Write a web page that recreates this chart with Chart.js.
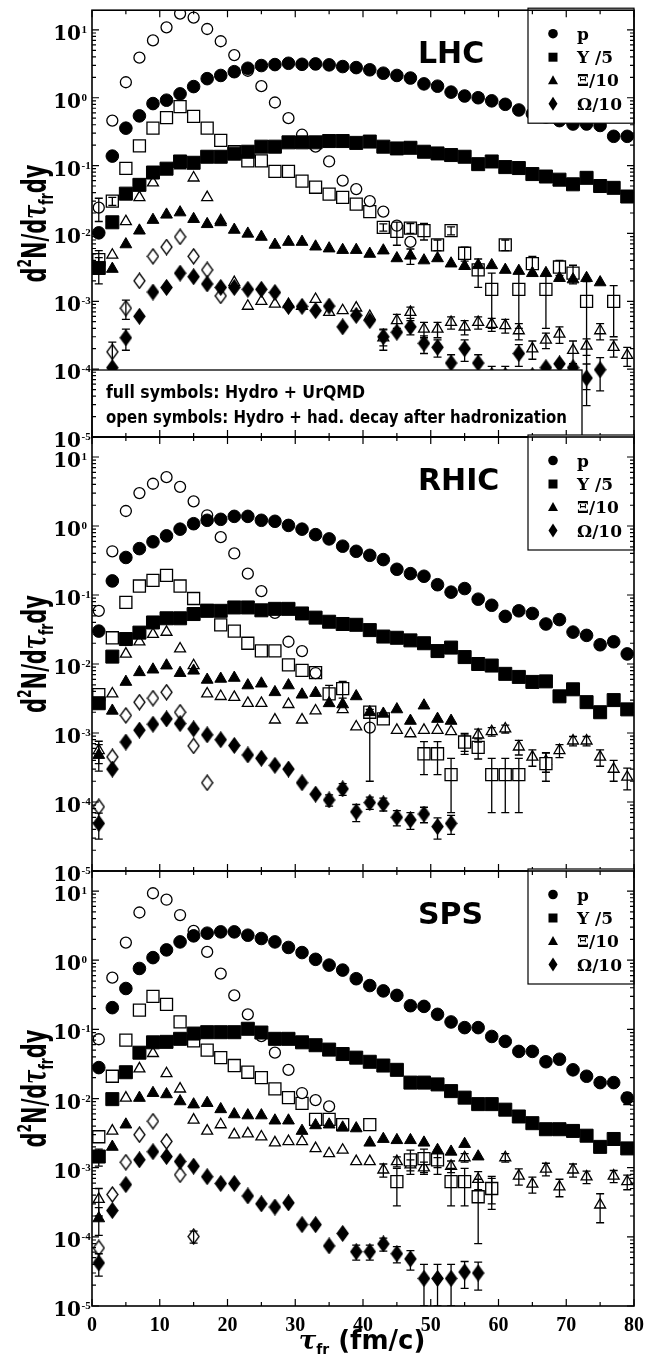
<!DOCTYPE html>
<html>
<head>
<meta charset="utf-8">
<script src="https://cdn.jsdelivr.net/npm/chart.js@4.4.1/dist/chart.umd.min.js"></script>
<style>
  body { margin: 0; background: #fff; }
  canvas { position: absolute; left: 0; top: 0; }
</style>
</head>
<body>
<canvas id="lhc" width="645" height="1364"></canvas>
<canvas id="rhic" width="645" height="1364"></canvas>
<canvas id="sps" width="645" height="1364"></canvas>
<script>
const _ = null;
// freeze-out times (fm/c), bin centres
const tau = [1,3,5,7,9,11,13,15,17,19,21,23,25,27,29,31,33,35,37,39,41,43,45,47,49,51,53,55,57,59,61,63,65,67,69,71,73,75,77,79];
const yTicks = [1e-5, 1e-4, 1e-3, 1e-2, 1e-1, 1, 10];
const yExp = ['-5', '-4', '-3', '-2', '-1', '0', '1'];
const xTicks = [0, 10, 20, 30, 40, 50, 60, 70, 80];
const legendLabels = ['p', 'Y /5', '\u039E/10', '\u03A9/10'];

// ---- LHC ----
const lhcP  = [0.0102,0.138,0.356,0.54,0.82,0.92,1.14,1.46,1.91,2.13, 2.42,2.72,2.98,3.08,3.22,3.11,3.15,3.05,2.88,2.78, 2.58,2.30,2.13,1.95,1.60,1.48,1.21,1.06,1.00,0.90, 0.80,0.66,0.58,0.52,0.46,0.41,0.41,0.39,0.27,0.27];
const lhcPo = [0.024,0.46,1.69,3.9,7.0,10.9,17.4,15.2,10.3,6.8, 4.25,2.5,1.48,0.85,0.50,0.285,0.19,0.115,0.06,0.045, 0.03,0.021,0.013,0.0075];
const lhcY  = [0.0031,0.0146,0.0386,0.052,0.079,0.090,0.115,0.11,0.135,0.135, 0.15,0.16,0.19,0.19,0.22,0.22,0.22,0.23,0.23,0.216, 0.226,0.19,0.179,0.183,0.16,0.151,0.143,0.135,0.105,0.115, 0.095,0.092,0.075,0.069,0.062,0.053,0.066,0.050,0.047,0.035];
const lhcYo = [0.0041,0.030,0.091,0.195,0.356,0.51,0.74,0.53,0.356,0.235, 0.16,0.117,0.117,0.082,0.082,0.059,0.048,0.038,0.034,0.027, 0.021,0.0123,0.0107,0.012,0.011,0.0068,0.011,0.0051,0.0029,0.0015, 0.0068,0.0015,0.0036,0.0015,0.0032,0.0026,0.001,_,0.001];
const lhcX  = [_,0.003,0.0069,0.011,0.0158,0.0189,0.0204,0.0163,0.0137,0.0146, 0.0113,0.0099,0.0089,0.0068,0.0075,0.0075,0.0064,0.006,0.0057,0.0057, 0.005,0.0056,0.0043,0.0047,0.004,0.0043,0.0036,0.0033,0.0034,0.0034, 0.0029,0.0028,0.0026,0.0026,0.0022,0.0021,0.0022,0.0019];
const lhcXo = [_,0.0048,0.015,0.034,0.056,0.085,0.10,0.066,0.034,0.0155, 0.0019,0.00085,0.001,0.00091,0.0009,0.00085,0.00107,0.00069,0.00073,0.0008, 0.0006,0.00029,0.00052,0.00069,0.00039,0.00039,0.00049,0.00042,0.00049,0.00046, 0.00044,0.00037,0.0002,0.00027,0.00033,0.00019,0.00022,0.00037,0.00021,0.00016];
const lhcO  = [_,0.000105,0.00029,0.0006,0.00137,0.0016,0.0026,0.0023,0.0018,0.0016, 0.0016,0.0015,0.0015,0.00135,0.00084,0.00084,0.00073,0.00085,0.00042,0.00062, 0.00052,0.0003,0.00035,0.00042,0.00024,0.00021,0.000123,0.0002,0.000123,0.00008, 0.00008,0.00017,0.00008,0.000105,0.00012,0.000105,0.000074,0.000098];
const lhcOo = [_,0.00018,0.00079,0.002,0.0046,0.0063,0.0089,0.0046,0.0029,0.0012];
const lhcPoErr = [[1,0.009]];
const lhcYErr  = [[1,0.0013]];
const lhcYoErr = [[1,0.0015],[3,0.004],[43,0.0015],[45,0.004],[47,0.002],[49,0.003],[51,0.0012],[53,0.0015],[55,0.0012],[57,0.0013],[59,0.0011],[61,0.0012],[63,0.0011],[65,0.001],[67,0.0011],[69,0.0008],[71,0.0008],[73,0.00095],[77,0.0007]];
const lhcXErr  = [[47,0.0012]];
const lhcXoErr = [[43,0.0001],[45,0.00012],[47,0.00013],[49,0.0001],[51,0.0001],[53,0.0001],[55,0.0001],[57,0.0001],[59,0.0001],[61,0.0001],[63,0.0001],[65,0.00006],[67,0.00007],[69,0.00009],[71,0.00007],[73,0.00006],[75,0.0001],[77,0.00006],[79,0.00005]];
const lhcOErr  = [[5,0.0001],[43,0.00008],[47,0.0001],[49,0.00007],[51,0.00006],[53,0.00004],[55,0.00007],[57,0.00004],[59,0.00003],[61,0.00003],[63,0.00006],[73,0.000045],[75,0.00005]];
const lhcOoErr = [[3,0.00007],[5,0.00025]];

// ---- RHIC ----
const rhP  = [0.030,0.16,0.35,0.47,0.59,0.72,0.90,1.08,1.21,1.25, 1.38,1.38,1.21,1.17,1.02,0.90,0.75,0.65,0.51,0.43, 0.376,0.326,0.236,0.204,0.187,0.141,0.11,0.124,0.087,0.071, 0.049,0.059,0.054,0.038,0.044,0.029,0.026,0.019,0.021,0.014];
const rhPo = [0.059,0.43,1.65,3.0,4.1,5.1,3.7,2.28,1.43,0.69, 0.40,0.204,0.114,0.055,0.021,0.0154,0.0074,_,_,_, 0.0012];
const rhY  = [0.0027,0.0128,0.023,0.0285,0.040,0.046,0.046,0.053,0.059,0.059, 0.066,0.066,0.060,0.063,0.063,0.054,0.047,0.041,0.038,0.037, 0.031,0.025,0.024,0.022,0.020,0.0154,0.0173,0.0126,0.0100,0.0095, 0.0072,0.0065,0.0055,0.0056,0.0034,0.0043,0.0028,0.0020,0.0030,0.0022];
const rhYo = [0.0036,0.024,0.078,0.135,0.163,0.193,0.135,0.089,0.06,0.037, 0.030,0.020,0.0155,0.0155,0.0097,0.0081,0.0075,0.0037,0.0044,_, 0.0020,0.0016,_,_,0.0005,0.0005,0.00025,0.00074,0.00062,0.00025, 0.00025,0.00025,_,0.00036];
const rhX  = [0.00048,0.0021,0.0055,0.0076,0.0083,0.0095,0.0074,0.0080,0.0059,0.0061, 0.0063,0.0049,0.0052,0.0039,0.0049,0.0036,0.0038,0.0027,0.0026,0.0034, 0.0020,0.0019,0.0022,0.0015,0.0025,0.0016,0.0015];
const rhXo = [0.00056,0.0037,0.014,0.021,0.027,0.029,0.0166,0.0095,0.0037,0.0034, 0.0033,0.0027,0.0027,0.00155,0.0026,0.00155,0.0021,_,0.0022,0.00123, _,_,0.0011,0.00098,0.0011,0.0011,0.00105,0.00074,0.00094,0.00105, 0.00115,0.00063,0.00045,0.00039,0.00056,0.00077,0.00077,0.00045,0.0003,0.00023];
const rhO  = [0.000049,0.0003,0.00074,0.0011,0.00134,0.0016,0.00137,0.00115,0.00094,0.0008, 0.00066,0.00048,0.00043,0.00034,0.0003,0.00019,0.00013,0.000107,0.000155,0.000072, 0.000098,0.000094,0.00006,0.000055,0.000067,0.000044,0.000049];
const rhOo = [0.000085,0.00045,0.0018,0.0028,0.0032,0.0039,0.002,0.00065,0.00019];
const rhPoErr = [[41,0.001]];
const rhYoErr = [[35,0.0012],[37,0.0012],[49,0.00025],[51,0.00025],[53,0.00018],[55,0.00025],[57,0.0002],[59,0.00018],[61,0.00018],[63,0.00018],[67,0.00016]];
const rhXErr  = [[1,0.0002]];
const rhXoErr = [[1,0.0002],[55,0.0002],[57,0.0002],[59,0.00015],[61,0.00015],[63,0.00015],[65,0.00012],[67,0.00012],[69,0.00012],[71,0.00012],[73,0.00012],[75,0.00012],[77,0.0001],[79,0.00008]];
const rhOErr  = [[1,0.00002],[35,0.00002],[37,0.00003],[39,0.00002],[41,0.00002],[43,0.00002],[45,0.000015],[47,0.000015],[49,0.000017],[51,0.000015],[53,0.000015]];

// ---- SPS ----
const spP  = [0.028,0.206,0.39,0.76,1.09,1.41,1.84,2.25,2.46,2.57, 2.57,2.30,2.06,1.84,1.53,1.29,1.03,0.85,0.72,0.54, 0.43,0.36,0.31,0.22,0.215,0.165,0.128,0.106,0.106,0.079, 0.067,0.048,0.048,0.034,0.037,0.026,0.021,0.017,0.017,0.0102];
const spPo = [0.072,0.56,1.80,4.9,9.3,7.5,4.5,2.66,1.32,0.64, 0.31,0.165,0.080,0.046,0.026,0.012,0.0095,0.0077];
const spY  = [0.00145,0.0098,0.024,0.046,0.065,0.066,0.073,0.087,0.091,0.091, 0.091,0.102,0.09,0.073,0.073,0.065,0.059,0.051,0.044,0.039, 0.034,0.030,0.026,0.017,0.017,0.016,0.0128,0.0103,0.0083,0.0083, 0.0069,0.0055,0.0044,0.0036,0.0036,0.0034,0.0029,0.0020,0.0026,0.0019];
const spYo = [0.0028,0.021,0.070,0.19,0.30,0.23,0.128,0.068,0.050,0.039, 0.030,0.024,0.020,0.0138,0.0103,0.0085,0.005,0.005,0.0042,_, 0.0042,_,0.00063,0.0013,0.00135,0.0013,0.00063,0.00063,0.00038,0.0005];
const spX  = [0.000185,0.002,0.0042,0.0102,0.012,0.0115,0.0091,0.0082,0.0086,0.007, 0.0059,0.0057,0.0057,0.0048,0.0048,0.0034,0.0041,0.0042,0.0038,0.0037, 0.0023,0.0026,0.0025,0.0025,0.0023,0.0018,0.0017,0.0022,0.00145];
const spXo = [0.00035,0.0034,0.0102,0.027,0.045,0.023,0.0138,0.0049,0.0034,0.0042, 0.003,0.0031,0.0028,0.0023,0.0024,0.0024,0.0019,0.0016,0.0018,0.00123, 0.00123,0.00093,0.00123,0.0011,0.001,0.0012,0.00105,0.0014,0.00068,0.0005, 0.0014,0.00076,0.00058,0.00096,0.00053,0.00093,0.00074,0.00029,0.00076,0.00063];
const spO  = [0.000042,0.00024,0.00057,0.0013,0.0017,0.00145,0.00123,0.00105,0.00074,0.00059, 0.00059,0.00039,0.0003,0.00027,0.00031,0.00015,0.00015,0.000074,0.000112,0.000061, 0.000061,0.000079,0.000057,0.000048,0.000025,0.000025,0.000025,0.000031,0.00003];
const spOo = [0.000069,0.00041,0.0012,0.003,0.0047,0.0024,0.00079,0.000101];
const spPErr  = [[79,0.002]];
const spYErr  = [[1,0.0004]];
const spYoErr = [[45,0.00035],[47,0.0005],[49,0.0005],[51,0.0005],[53,0.00035],[55,0.00035],[57,0.0003],[59,0.00025]];
const spXErr  = [[1,0.00008]];
const spXoErr = [[1,0.00015],[43,0.0002],[45,0.0002],[47,0.0002],[49,0.0002],[51,0.0002],[53,0.0002],[55,0.0002],[57,0.0002],[59,0.0002],[61,0.0002],[63,0.0002],[65,0.00015],[67,0.0002],[69,0.00015],[71,0.0002],[73,0.00015],[75,0.00013],[77,0.00015],[79,0.00015]];
const spOErr  = [[1,0.000015],[39,0.000015],[41,0.000015],[43,0.000017],[45,0.000015],[47,0.000015],[49,0.000015],[51,0.000015],[53,0.000015],[55,0.000013],[57,0.000013]];
const spOoErr = [[15,0.00002]];

// ---- marker helpers ----
function diamondCanvas(w, h, fill) {
  const c = document.createElement('canvas');
  c.width = w + 2; c.height = h + 2;
  const g = c.getContext('2d');
  g.beginPath();
  g.moveTo(c.width / 2, 1);
  g.lineTo(c.width - 1, c.height / 2);
  g.lineTo(c.width / 2, c.height - 1);
  g.lineTo(1, c.height / 2);
  g.closePath();
  g.fillStyle = fill; g.fill();
  g.lineWidth = 1.3; g.strokeStyle = '#000'; g.stroke();
  return c;
}
const diaFull = diamondCanvas(11, 15, '#000');
const diaOpen = diamondCanvas(11, 15, '#fff');

function pts(vals) {
  const out = [];
  tau.forEach((t, i) => { if (vals[i] != null) out.push({x: t, y: vals[i]}); });
  return out;
}

function makeSet(vals, errs, kind, open) {
  const d = {
    data: pts(vals), errs: errs || [],
    pointBackgroundColor: open ? '#fff' : '#000',
    pointBorderColor: '#000',
    pointBorderWidth: open ? 1.3 : 1,
    pointHoverRadius: 0
  };
  if (kind === 'p') { d.pointStyle = 'circle'; d.pointRadius = open ? 5.5 : 6.3; }
  if (kind === 'Y') { d.pointStyle = 'rect'; d.pointRadius = open ? 8.5 : 9.2; }
  if (kind === 'X') { d.pointStyle = 'triangle'; d.pointRadius = open ? 6.3 : 6.8; }
  if (kind === 'O') { d.pointStyle = open ? diaOpen : diaFull; d.pointRadius = 6; }
  return d;
}

function drawRich(ctx, parts, x, y) {
  let cx = x;
  parts.forEach(p => {
    ctx.font = p.f;
    ctx.fillText(p.t, cx, y + (p.dy || 0));
    cx += ctx.measureText(p.t).width;
  });
}
function richWidth(ctx, parts) {
  let w = 0;
  parts.forEach(p => { ctx.font = p.f; w += ctx.measureText(p.t).width; });
  return w;
}

function legendMarker(ctx, i, x, y) {
  ctx.beginPath();
  if (i === 0) ctx.arc(x, y, 4.8, 0, Math.PI * 2);
  if (i === 1) ctx.rect(x - 4.5, y - 4.5, 9, 9);
  if (i === 2) { ctx.moveTo(x, y - 5); ctx.lineTo(x + 5, y + 4); ctx.lineTo(x - 5, y + 4); ctx.closePath(); }
  if (i === 3) { ctx.moveTo(x, y - 7); ctx.lineTo(x + 4.5, y); ctx.lineTo(x, y + 7); ctx.lineTo(x - 4.5, y); ctx.closePath(); }
  ctx.fill();
}

const deco = {
  id: 'deco',
  afterDatasetsDraw(chart) {
    const {ctx, chartArea: a} = chart;
    const xs = chart.scales.x, ys = chart.scales.y;
    ctx.save();
    ctx.beginPath();
    ctx.rect(a.left, a.top, a.right - a.left, a.bottom - a.top);
    ctx.clip();
    ctx.strokeStyle = '#000';
    ctx.lineWidth = 1.3;
    chart.data.datasets.forEach(ds => {
      ds.errs.forEach(([xv, e]) => {
        const pt = ds.data.find(p => p.x === xv);
        if (!pt) return;
        const px = xs.getPixelForValue(xv);
        const y1 = ys.getPixelForValue(Math.max(pt.y - e, 1e-7));
        const y2 = ys.getPixelForValue(pt.y + e);
        ctx.beginPath();
        ctx.moveTo(px, y1); ctx.lineTo(px, y2);
        ctx.moveTo(px - 4, y1); ctx.lineTo(px + 4, y1);
        ctx.moveTo(px - 4, y2); ctx.lineTo(px + 4, y2);
        ctx.stroke();
      });
    });
    ctx.restore();
  },
  afterDraw(chart) {
    const o = chart.options.plugins.deco;
    const {ctx, chartArea: a} = chart;
    const xs = chart.scales.x, ys = chart.scales.y;
    ctx.save();
    ctx.fillStyle = '#000';
    ctx.strokeStyle = '#000';

    // note box (LHC only)
    if (o.note) {
      const bt = a.bottom - 67;
      ctx.fillStyle = '#fff';
      ctx.fillRect(a.left, bt, 582 - a.left, a.bottom - bt);
      ctx.lineWidth = 1.3;
      ctx.strokeRect(a.left, bt, 582 - a.left, a.bottom - bt);
      ctx.fillStyle = '#000';
      ctx.font = 'bold 18px "DejaVu Sans"';
      [['full symbols: Hydro + UrQMD', 259, 28], ['open symbols: Hydro + had. decay after hadronization', 461, 53]].forEach(([t, w, dy]) => {
        const m = ctx.measureText(t).width;
        ctx.save();
        ctx.translate(106, bt + dy);
        ctx.scale(w / m, 1);
        ctx.fillText(t, 0, 0);
        ctx.restore();
      });
    }

    // legend box
    ctx.fillStyle = '#fff';
    ctx.fillRect(528, a.top - 2, a.right - 528, 115);
    ctx.lineWidth = 1.2;
    ctx.strokeRect(528, a.top - 2, a.right - 528, 115);
    ctx.fillStyle = '#000';
    const rows = [23.5, 47, 70, 93.5];
    legendLabels.forEach((lab, i) => {
      legendMarker(ctx, i, 553, a.top + rows[i]);
      ctx.font = 'bold 17px "DejaVu Serif"';
      ctx.fillText(lab, 577, a.top + rows[i] + 6);
    });

    // panel name
    ctx.font = 'bold 30px "DejaVu Sans"';
    ctx.fillText(o.name, 418, a.top + 53);

    // frame
    ctx.lineWidth = 1.6;
    ctx.strokeRect(a.left, a.top, a.right - a.left, a.bottom - a.top);

    // inward ticks
    ctx.lineWidth = 1.2;
    ctx.beginPath();
    for (let v = 0; v <= 80; v += 5) {
      const px = xs.getPixelForValue(v);
      const len = v % 10 === 0 ? 7 : 4;
      ctx.moveTo(px, a.bottom); ctx.lineTo(px, a.bottom - len);
      ctx.moveTo(px, a.top); ctx.lineTo(px, a.top + len);
    }
    yTicks.forEach(d => {
      for (let m = 1; m <= 9; m++) {
        const v = d * m;
        if (v > ys.max) break;
        const py = ys.getPixelForValue(v);
        const len = m === 1 ? 7 : 4;
        ctx.moveTo(a.left, py); ctx.lineTo(a.left + len, py);
        ctx.moveTo(a.right, py); ctx.lineTo(a.right - len, py);
      }
    });
    ctx.stroke();

    // y tick labels: "10" with small raised exponent
    ctx.fillStyle = '#000';
    yTicks.forEach((v, i) => {
      const py = ys.getPixelForValue(v);
      ctx.font = 'bold 20px "DejaVu Serif"';
      ctx.textAlign = 'right';
      ctx.fillText('10', 81, py + 10);
      ctx.font = 'bold 11px "Liberation Serif"';
      ctx.textAlign = 'left';
      ctx.fillText(yExp[i], 81.5, py + 3);
    });

    // x tick labels
    if (o.xlab) {
      ctx.font = 'bold 20px "Liberation Serif"';
      ctx.textAlign = 'center';
      xTicks.forEach(v => ctx.fillText(String(v), xs.getPixelForValue(v), a.bottom + 25));
      ctx.textAlign = 'left';
      const xt = [
        {t: '\u03C4', f: 'italic bold 26px "DejaVu Serif"'},
        {t: 'fr', f: 'bold 14px "DejaVu Sans"', dy: 5},
        {t: ' (fm/c)', f: 'bold 26px "DejaVu Sans"'}
      ];
      drawRich(ctx, xt, 362 - richWidth(ctx, xt) / 2, a.bottom + 43);
    }

    // y axis title
    const yt = [
      {t: 'd', f: 'bold 34px "DejaVu Sans"'},
      {t: '2', f: 'bold 20px "DejaVu Sans"', dy: -15},
      {t: 'N/d', f: 'bold 34px "DejaVu Sans"'},
      {t: '\u03C4', f: 'italic bold 34px "DejaVu Serif"'},
      {t: 'fr', f: 'bold 20px "DejaVu Sans"', dy: 7},
      {t: 'dy', f: 'bold 34px "DejaVu Sans"'}
    ];
    const w = richWidth(ctx, yt);
    ctx.save();
    ctx.translate(46, (a.top + a.bottom) / 2);
    ctx.rotate(-Math.PI / 2);
    ctx.scale(118 / w, 1);
    ctx.textAlign = 'left';
    drawRich(ctx, yt, -w / 2, 0);
    ctx.restore();

    ctx.restore();
  }
};

function panel(id, name, top, bottom, full, open, fullErr, openErr, note, xlab) {
  const kinds = ['p', 'Y', 'X', 'O'];
  const sets = [];
  kinds.forEach((k, i) => sets.push(makeSet(full[i], fullErr[i], k, false)));
  kinds.forEach((k, i) => sets.push(makeSet(open[i], openErr[i], k, true)));
  new Chart(document.getElementById(id), {
    type: 'scatter',
    data: {datasets: sets},
    options: {
      responsive: false,
      animation: false,
      devicePixelRatio: 1,
      events: [],
      layout: {padding: {left: 92, right: 11, top: top, bottom: 1364 - bottom}},
      plugins: {
        legend: {display: false},
        tooltip: {enabled: false},
        deco: {name: name, note: note, xlab: xlab}
      },
      scales: {
        x: {type: 'linear', min: 0, max: 80, display: false},
        y: {type: 'logarithmic', min: 1e-5, max: 19.5, display: false}
      }
    },
    plugins: [deco]
  });
}

panel('lhc', 'LHC', 3, 437,
  [lhcP, lhcY, lhcX, lhcO], [lhcPo, lhcYo, lhcXo, lhcOo],
  [[], lhcYErr, lhcXErr, lhcOErr], [lhcPoErr, lhcYoErr, lhcXoErr, lhcOoErr], true, false);
panel('rhic', 'RHIC', 437, 871,
  [rhP, rhY, rhX, rhO], [rhPo, rhYo, rhXo, rhOo],
  [[], [], rhXErr, rhOErr], [rhPoErr, rhYoErr, rhXoErr, []], false, false);
panel('sps', 'SPS', 871, 1306,
  [spP, spY, spX, spO], [spPo, spYo, spXo, spOo],
  [spPErr, spYErr, spXErr, spOErr], [[], spYoErr, spXoErr, spOoErr], false, true);
</script>
</body>
</html>
